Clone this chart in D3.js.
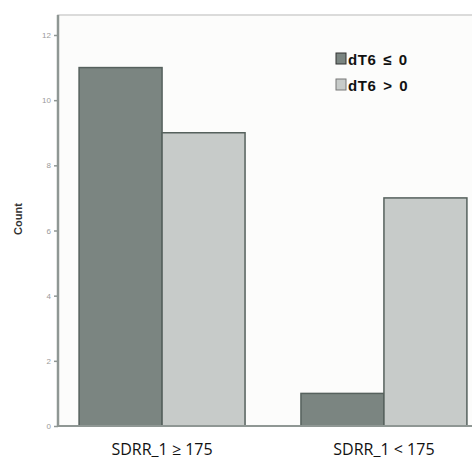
<!DOCTYPE html>
<html>
<head>
<meta charset="utf-8">
<script src="https://cdn.jsdelivr.net/npm/d3@7"></script>
<style>
  body { margin: 0; background: #ffffff; }
  svg { display: block; }
</style>
</head>
<body>
<div id="chart"></div>
<script>
// Data
var categories = ["SDRR_1 \u2265 175", "SDRR_1 < 175"];
var seriesNames = ["dT6 \u2264 0", "dT6 > 0"];
var leDT6 = [11, 1];   // dT6 <= 0
var gtDT6 = [9, 7];    // dT6 > 0
var yTicks = [0, 2, 4, 6, 8, 10, 12];

var svgWidth = 472;
var svgHeight = 459;

// Chart area
var margin = { top: 15, left: 58 };
var baseY = 426;

var svg = d3.select("#chart")
  .append("svg")
  .attr("width", svgWidth)
  .attr("height", svgHeight);

// light plot background with frame
svg.append("rect")
  .attr("x", margin.left)
  .attr("y", margin.top)
  .attr("width", svgWidth)
  .attr("height", baseY - margin.top)
  .attr("fill", "#fcfcfb")
  .attr("stroke", "#cfcfcf")
  .attr("stroke-width", 1.5);

var yScale = d3.scaleLinear()
  .domain([0, 12])
  .range([baseY, 35]);

var xScale = d3.scaleBand()
  .domain(categories)
  .range([margin.left, margin.left + 430])
  .paddingInner(0.252)
  .paddingOuter(0.095);

var xSub = d3.scaleBand()
  .domain(seriesNames)
  .range([0, xScale.bandwidth()]);

var colors = d3.scaleOrdinal()
  .domain(seriesNames)
  .range(["#7b8581", "#c7cbc9"]);

var rows = categories.map(function(c, i) {
  return { cat: c, values: [
    { name: seriesNames[0], value: leDT6[i] },
    { name: seriesNames[1], value: gtDT6[i] }
  ]};
});

var groups = svg.selectAll(".grp")
  .data(rows)
  .enter()
  .append("g")
  .attr("class", "grp")
  .attr("transform", d => `translate(${xScale(d.cat)},0)`);

groups.selectAll("rect")
  .data(d => d.values)
  .enter()
  .append("rect")
  .attr("x", d => xSub(d.name))
  .attr("y", d => yScale(d.value))
  .attr("width", xSub.bandwidth())
  .attr("height", d => baseY - yScale(d.value))
  .attr("fill", d => colors(d.name))
  .attr("stroke", "#56615d")
  .attr("stroke-width", 1.5);

// y axis
var leftAxis = d3.axisLeft(yScale)
  .tickValues(yTicks)
  .tickSize(4)
  .tickPadding(3);

var yAxisG = svg.append("g")
  .attr("transform", `translate(${margin.left},0)`)
  .call(leftAxis);
yAxisG.select(".domain")
  .attr("stroke", "#8f9794")
  .attr("stroke-width", 2.5)
  .attr("d", `M0,${margin.top}V${baseY}`);
yAxisG.selectAll(".tick line").attr("stroke", "#8f9794").attr("stroke-width", 1.5);
yAxisG.selectAll(".tick text")
  .attr("fill", "#9a9a9a")
  .attr("font-size", "8px")
  .attr("font-family", "Liberation Sans, Arial, sans-serif");

// baseline
svg.append("line")
  .attr("x1", margin.left)
  .attr("x2", svgWidth)
  .attr("y1", baseY)
  .attr("y2", baseY)
  .attr("stroke", "#8f9794")
  .attr("stroke-width", 2);

// category labels
svg.selectAll(".catLabel")
  .data(categories)
  .enter()
  .append("text")
  .attr("class", "catLabel")
  .attr("x", d => xScale(d) + xScale.bandwidth() / 2)
  .attr("y", 455)
  .attr("text-anchor", "middle")
  .attr("font-family", "Open Sans, sans-serif")
  .attr("font-size", "16px")
  .attr("fill", "#111")
  .text(d => d);

// y title
svg.append("text")
  .attr("transform", "translate(22,219) rotate(-90)")
  .attr("text-anchor", "middle")
  .attr("font-family", "Liberation Sans, Arial, sans-serif")
  .attr("font-weight", "bold")
  .attr("font-size", "11px")
  .attr("fill", "#333")
  .text("Count");

// legend
var legend = svg.selectAll(".legend")
  .data(seriesNames)
  .enter()
  .append("g")
  .attr("class", "legend")
  .attr("transform", (d, i) => `translate(336,${53 + i * 26})`);

legend.append("rect")
  .attr("width", 10)
  .attr("height", 11)
  .attr("fill", d => colors(d))
  .attr("stroke", d => d === seriesNames[0] ? "#333" : "#777")
  .attr("stroke-width", 1);

legend.append("text")
  .attr("x", 12)
  .attr("y", 12)
  .attr("font-family", "Liberation Sans, Arial, sans-serif")
  .attr("font-weight", "bold")
  .attr("font-size", "15px")
  .attr("letter-spacing", "0.6px")
  .attr("word-spacing", "2px")
  .attr("fill", "#111")
  .text(d => d);
</script>
</body>
</html>
